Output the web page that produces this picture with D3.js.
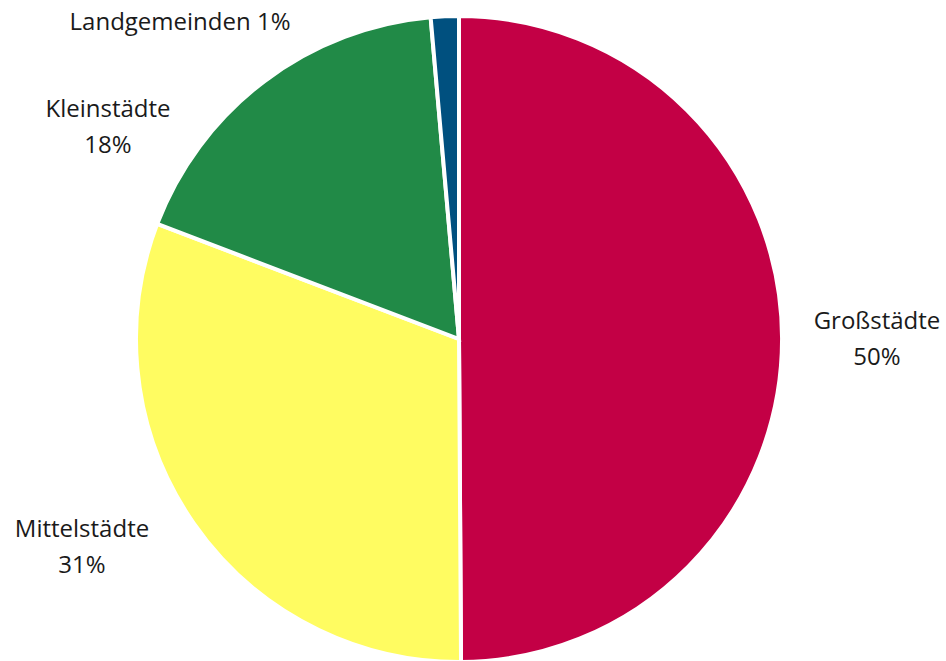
<!DOCTYPE html>
<html>
<head>
<meta charset="utf-8">
<title>Gemeindetypen</title>
<script src="https://cdn.jsdelivr.net/npm/d3@7"></script>
<style>
  body { margin: 0; background: #fff; }
  .label text { font: 24px "Open Sans", sans-serif; fill: #1a1a1a; text-anchor: middle; }
  .arc path { stroke: #fff; stroke-width: 4; }
</style>
</head>
<body>
<svg id="chart" width="946" height="661"></svg>
<script>
// data
var categories = ["Großstädte", "Mittelstädte", "Kleinstädte", "Landgemeinden"];
var shares = [49.9, 30.9, 17.8, 1.4];
var shareLabels = ["50%", "31%", "18%", "1%"];
var colors = ["#c30045", "#fffc61", "#218a47", "#00507f"];

var width = 946, height = 661,
    cx = 459, cy = 339,
    radius = 323;

// label centres relative to the pie centre, and whether on one line
var labelLayout = [
  {x: 418, y: -2, oneLine: false},
  {x: -377, y: 206, oneLine: false},
  {x: -351, y: -214, oneLine: false},
  {x: -279, y: -317, oneLine: true}
];

var data = categories.map(function(c, i) {
  return {name: c, value: shares[i], pct: shareLabels[i], color: colors[i], layout: labelLayout[i]};
});

var svg = d3.select("#chart");
var g = svg.append("g").attr("transform", "translate(" + cx + "," + cy + ")");

var pie = d3.pie().sort(null).value(function(d) { return d.value; });
var arc = d3.arc().innerRadius(0).outerRadius(radius);

var slices = g.selectAll(".arc")
    .data(pie(data))
  .enter().append("g")
    .attr("class", "arc");

slices.append("path")
    .attr("d", arc)
    .style("fill", function(d) { return d.data.color; });

var labels = g.selectAll(".label")
    .data(pie(data))
  .enter().append("g")
    .attr("class", "label")
    .attr("transform", function(d) { return "translate(" + d.data.layout.x + "," + d.data.layout.y + ")"; });

labels.each(function(d) {
  var t = d3.select(this).append("text");
  if (d.data.layout.oneLine) {
    t.attr("dy", "0.35em").text(d.data.name + " " + d.data.pct);
  } else {
    t.append("tspan").attr("x", 0).attr("dy", "-0.35em").text(d.data.name);
    t.append("tspan").attr("x", 0).attr("dy", "1.5em").text(d.data.pct);
  }
});
</script>
</body>
</html>
